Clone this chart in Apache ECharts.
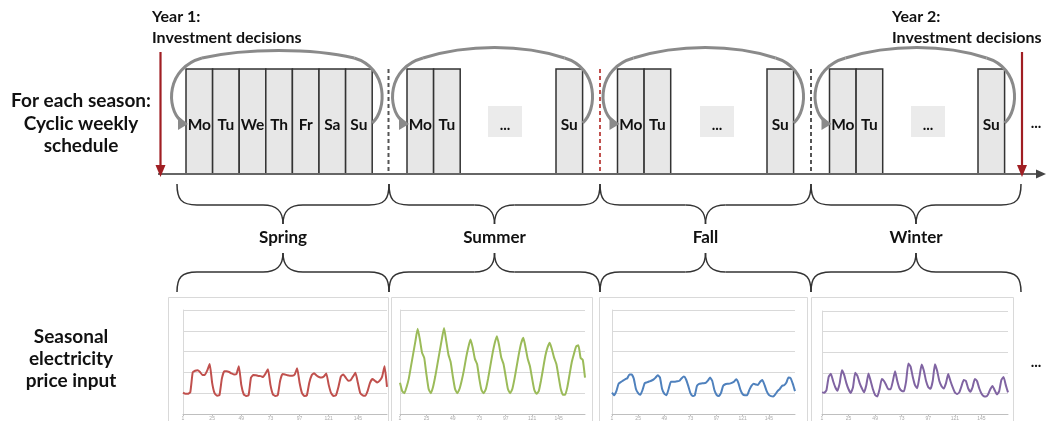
<!DOCTYPE html>
<html><head><meta charset="utf-8">
<script src="https://cdn.jsdelivr.net/npm/echarts@6/dist/echarts.min.js"></script>
<style>html,body{margin:0;padding:0;background:#fff}#main{width:1046px;height:421px}</style>
</head><body><div id="main"></div>
<script>
// ---------- data ----------
const seasons = ['Spring', 'Summer', 'Fall', 'Winter'];
const springDays = ['Mo', 'Tu', 'We', 'Th', 'Fr', 'Sa', 'Su'];
const otherDays = ['Mo', 'Tu', '...', 'Su'];
const leftTopLabel = ['For each season:', 'Cyclic weekly', 'schedule'];
const leftBottomLabel = ['Seasonal', 'electricity', 'price input'];
const year1Label = ['Year 1:', 'Investment decisions'];
const year2Label = ['Year 2:', 'Investment decisions'];
const hourTickLabels = ['1', '25', '49', '73', '97', '121', '145'];
const HOURS_PER_SAMPLE = 2;

const springPrice = [1.03,0.97,0.97,1.05,2.0,2.08,2.10,2.02,1.88,1.88,2.1,2.40,
  1.5,1.0,0.88,0.90,1.7,2.06,2.06,2.02,1.95,1.90,1.92,2.3,
  1.4,0.95,0.87,0.9,1.75,1.88,1.86,1.83,1.82,1.78,1.95,2.15,
  1.4,0.95,0.87,0.9,1.6,1.92,1.9,1.86,1.84,1.84,1.9,2.2,
  1.5,1.0,0.87,0.9,1.5,1.86,1.96,1.85,1.78,1.75,1.8,1.95,
  1.4,1.0,0.87,0.9,1.3,1.8,1.9,1.75,1.6,1.62,1.8,1.98,
  1.5,1.0,0.9,0.88,1.1,1.5,1.68,1.6,1.52,1.6,1.8,2.3,1.3];
const summerPrice = [1.5,1.1,1.0,1.3,1.7,2.3,2.9,3.5,4.1,3.6,2.95,2.7,
  1.9,1.2,1.0,1.3,1.8,2.4,3.0,3.6,4.14,3.5,2.85,2.5,
  1.8,1.2,1.0,1.2,1.6,2.1,2.7,3.2,3.58,3.2,2.65,2.4,
  1.7,1.15,1.0,1.2,1.7,2.3,2.9,3.4,3.74,3.3,2.7,2.4,
  1.8,1.2,1.0,1.2,1.7,2.3,2.9,3.4,3.66,3.2,2.65,2.3,
  1.7,1.15,0.97,1.1,1.6,2.2,2.8,3.2,3.42,3.1,2.7,2.4,
  1.8,1.2,0.92,0.92,1.3,1.9,2.5,2.9,3.25,3.3,2.7,2.6,1.75];
const fallPrice = [1.03,0.9,1.1,1.45,1.53,1.6,1.67,1.72,1.9,1.9,1.7,1.2,
  1.0,0.92,1.15,1.48,1.52,1.56,1.6,1.65,1.75,1.86,1.76,1.2,
  0.98,0.9,1.2,1.55,1.55,1.55,1.57,1.6,1.72,1.8,1.66,1.35,
  1.0,0.86,0.9,1.35,1.45,1.47,1.48,1.5,1.6,1.75,1.6,1.15,
  0.92,0.86,1.0,1.35,1.43,1.45,1.46,1.5,1.55,1.67,1.5,1.15,
  0.95,0.9,0.9,1.15,1.35,1.45,1.42,1.4,1.55,1.64,1.4,1.1,
  0.92,0.86,0.84,0.95,1.1,1.2,1.35,1.38,1.5,1.75,1.72,1.45,1.1];
const winterPrice = [1.05,1.03,1.15,1.8,1.95,1.6,1.3,1.13,1.5,2.12,1.9,1.5,
  1.2,1.02,1.3,2.0,1.85,1.5,1.25,1.05,1.4,1.97,1.6,1.2,
  0.92,0.85,1.2,1.7,1.6,1.4,1.2,1.2,1.6,2.08,1.6,1.25,
  1.12,1.1,1.6,2.45,2.3,1.8,1.4,1.25,1.8,2.4,2.1,1.6,
  1.3,1.22,1.6,2.42,2.1,1.6,1.35,1.24,1.5,1.94,1.6,1.3,
  1.05,0.97,1.05,1.35,1.65,1.6,1.25,1.08,1.3,1.7,1.6,1.25,
  1.0,0.87,0.85,0.95,1.2,1.36,1.15,0.95,1.1,1.65,1.8,1.4,1.05];
const seasonPrices = [springPrice, summerPrice, fallPrice, winterPrice];

// ---------- layout / style ----------
const FONT = 'Lato, "Open Sans", sans-serif';
const seriesColors = ['#c0504d', '#9bbb59', '#4f81bd', '#8064a2'];
const BOX_TOP = 69, BASE_Y = 174, BOX_W = 26.6;
const seasonLayout = [
  { slots: [186, 212.6, 239.2, 265.8, 292.4, 319, 345.6], arcTop: 51 },
  { slots: [407, 433.6, 488, 556], arcTop: 47 },
  { slots: [617.5, 644.1, 700, 767], arcTop: 47 },
  { slots: [829.5, 856.1, 911, 978], arcTop: 47 }
];
const braceX = [177, 389, 600, 811, 1021];
const separators = [{ x: 388.5, color: '#555' }, { x: 600, color: '#c0504d' }, { x: 811, color: '#555' }];
const grids = [
  { left: 183, top: 310, width: 204, height: 106 },
  { left: 400, top: 310, width: 185, height: 105 },
  { left: 612, top: 310, width: 183, height: 105 },
  { left: 822, top: 311, width: 186, height: 104 }
];
const panels = [[168, 297, 220, 130], [391, 297, 201, 130], [599, 297, 208, 130], [811, 297, 202, 130]];

function txt(x, y, s, size, align, color) {
  align = align || 'center';
  return { type: 'text', x: x, y: y, z: 20, style: { text: s, font: 'bold ' + size + 'px ' + FONT,
    fill: color || '#111', textAlign: align, textVerticalAlign: 'middle', align: align, verticalAlign: 'middle' } };
}
function cubic(x1, y1, c1x, c1y, c2x, c2y, x2, y2, color, w) {
  return { type: 'bezierCurve', z: 15, shape: { x1: x1, y1: y1, cpx1: c1x, cpy1: c1y, cpx2: c2x, cpy2: c2y, x2: x2, y2: y2 },
    style: { stroke: color, lineWidth: w, fill: null } };
}
function line(x1, y1, x2, y2, color, w, dash, z) {
  return { type: 'line', z: z || 12, shape: { x1: x1, y1: y1, x2: x2, y2: y2 },
    style: { stroke: color, lineWidth: w, lineDash: dash || null } };
}
function tri(pts, color) {
  return { type: 'polygon', z: 16, shape: { points: pts }, style: { fill: color } };
}

const g = [];
// panel frames
panels.forEach(p => g.push({ type: 'rect', z: 1, shape: { x: p[0] + 0.5, y: p[1] + 0.5, width: p[2], height: p[3] },
  style: { stroke: '#d9d9d9', lineWidth: 1, fill: null } }));
// left texts
leftTopLabel.forEach((s, i) => g.push(txt(81, 101 + i * 22.5, s, 19)));
leftBottomLabel.forEach((s, i) => g.push(txt(71, 337 + i * 22, s, 19)));
year1Label.forEach((s, i) => g.push(txt(152, 17 + i * 21, s, 16, 'left')));
year2Label.forEach((s, i) => g.push(txt(892, 17 + i * 21, s, 16, 'left')));
// baseline with arrow
g.push(line(158, BASE_Y, 1038, BASE_Y, '#666', 2));
g.push(tri([[1046, BASE_Y], [1036, BASE_Y - 4.5], [1036, BASE_Y + 4.5]], '#444'));
// red year arrows
[160.5, 1022].forEach(x => {
  g.push(line(x, 52, x, 166, '#a01e23', 2.2));
  g.push(tri([[x, 177], [x - 5, 165], [x + 5, 165]], '#a01e23'));
});
// separators
separators.forEach(s => g.push(line(s.x, BOX_TOP, s.x, BASE_Y, s.color, 2, [4, 3], 11)));
// day boxes
seasonLayout.forEach((sl, si) => {
  const labels = si === 0 ? springDays : otherDays;
  sl.slots.forEach((x, k) => {
    const lab = labels[k];
    if (lab === '...') {
      g.push({ type: 'rect', z: 10, shape: { x: x, y: 106, width: 34, height: 31 }, style: { fill: '#ebebeb' } });
      g.push(txt(x + 17, 125, '...', 15));
    } else {
      g.push({ type: 'rect', z: 10, shape: { x: x, y: BOX_TOP, width: BOX_W, height: BASE_Y - BOX_TOP },
        style: { fill: '#e7e7e7', stroke: '#333', lineWidth: 1.5 } });
      g.push(txt(x + BOX_W / 2, 125, lab, 15.5));
    }
  });
  // cyclic arc
  const L = sl.slots[0], R = sl.slots[sl.slots.length - 1] + BOX_W, c = sl.arcTop - 3;
  const col = '#8a8a8a', w = 3;
  g.push(cubic(R, 123, R + 15, 110, R + 16, 68, R - 18, 58, col, w));
  g.push(cubic(R - 18, 58, R - 60, c, L + 60, c, L + 16, 58, col, w));
  g.push(cubic(L + 16, 58, L - 20, 68, L - 20, 108, L - 5, 121, col, w));
  g.push(tri([[L + 2, 124], [L - 8, 116], [L - 8, 130]], '#8a8a8a'));
});
g.push(txt(1036, 123, '...', 15));
g.push(txt(1036, 362, '...', 15));
// braces
function brace(x0, x1, y0, y1, y2) {
  const xc = (x0 + x1) / 2, d = y1 > y0 ? 1 : -1, col = '#333', w = 1.5;
  g.push(cubic(x0, y0, x0, y1 - 6 * d, x0 + 4, y1, x0 + 20, y1, col, w));
  g.push(line(x0 + 20, y1, xc - 20, y1, col, w, null, 15));
  g.push(cubic(xc - 20, y1, xc - 6, y1, xc, y1 + 6 * d, xc, y2, col, w));
  g.push(cubic(xc, y2, xc, y1 + 6 * d, xc + 6, y1, xc + 20, y1, col, w));
  g.push(line(xc + 20, y1, x1 - 20, y1, col, w, null, 15));
  g.push(cubic(x1 - 20, y1, x1 - 4, y1, x1, y1 - 6 * d, x1, y0, col, w));
}
seasons.forEach((s, i) => {
  brace(braceX[i], braceX[i + 1], 184, 205, 224);
  brace(braceX[i], braceX[i + 1], 292, 272, 253);
  g.push(txt((braceX[i] + braceX[i + 1]) / 2, 238, s, 17));
});

const chart = echarts.init(document.getElementById('main'), null, { renderer: 'canvas' });
chart.setOption({
  animation: false,
  backgroundColor: '#fff',
  grid: grids.map(gr => Object.assign({ containLabel: false }, gr)),
  xAxis: grids.map((gr, i) => ({
    type: 'value', gridIndex: i, min: 0, max: 168, interval: 24,
    axisLine: { lineStyle: { color: '#bfbfbf', width: 1 } },
    axisTick: { show: true, length: 2, lineStyle: { color: '#bfbfbf' } },
    axisLabel: { fontSize: 5, color: '#aaa', margin: 2, showMaxLabel: false,
      formatter: v => hourTickLabels[v / 24] || '' },
    splitLine: { show: false }
  })),
  yAxis: grids.map((gr, i) => ({
    type: 'value', gridIndex: i, min: 0, max: 5, interval: 1,
    axisLine: { show: true, lineStyle: { color: '#d9d9d9' } },
    axisTick: { show: false }, axisLabel: { show: false },
    splitLine: { lineStyle: { color: '#d9d9d9', width: 1 } }
  })),
  series: seasonPrices.map((arr, i) => ({
    type: 'line', name: seasons[i], xAxisIndex: i, yAxisIndex: i,
    data: arr.map((v, k) => [k * HOURS_PER_SAMPLE, v]),
    showSymbol: false, smooth: 0.15,
    lineStyle: { color: seriesColors[i], width: 2 }, itemStyle: { color: seriesColors[i] }
  })),
  graphic: { elements: g }
});
</script></body></html>
